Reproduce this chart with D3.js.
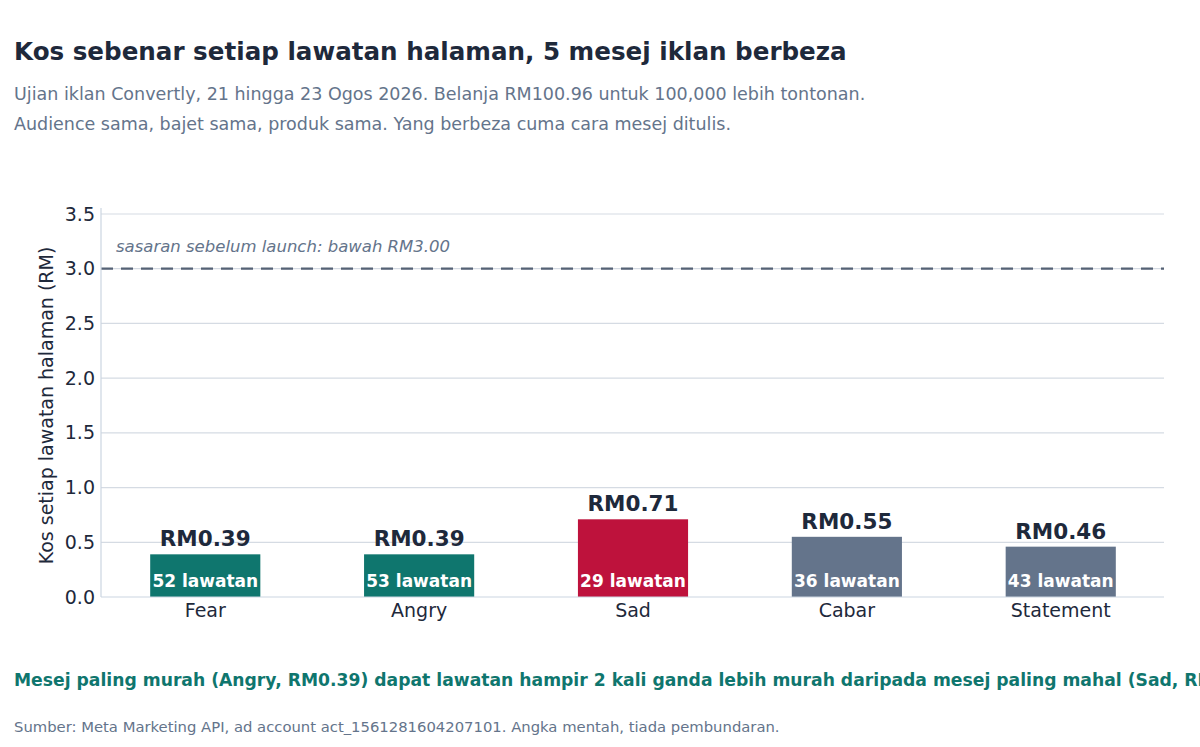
<!DOCTYPE html>
<html>
<head>
<meta charset="utf-8">
<script src="https://cdn.jsdelivr.net/npm/d3@7"></script>
<style>
  body { margin: 0; background: #fff; }
  svg { display: block; font-family: "DejaVu Sans", sans-serif; }
</style>
</head>
<body>
<svg id="chart" width="1200" height="747"></svg>
<script>
const categories = ["Fear", "Angry", "Sad", "Cabar", "Statement"];
const costs = [0.39, 0.39, 0.71, 0.55, 0.46];
const visits = [52, 53, 29, 36, 43];
const groups = ["murah", "murah", "mahal", "lain", "lain"];
const yTicks = [0, 0.5, 1.0, 1.5, 2.0, 2.5, 3.0, 3.5];
const target = 3.0;

const colors = { murah: "#0f766e", mahal: "#be123c", lain: "#64748b" };

const svg = d3.select("#chart");

// header text
svg.append("text")
  .attr("x", 14).attr("y", 60)
  .attr("fill", "#1e293b")
  .style("font-size", "24.6px").style("font-weight", "bold")
  .text("Kos sebenar setiap lawatan halaman, 5 mesej iklan berbeza");
svg.append("text")
  .attr("x", 14).attr("y", 100)
  .attr("fill", "#64748b").style("font-size", "17.5px")
  .text("Ujian iklan Convertly, 21 hingga 23 Ogos 2026. Belanja RM100.96 untuk 100,000 lebih tontonan.");
svg.append("text")
  .attr("x", 14).attr("y", 130)
  .attr("fill", "#64748b").style("font-size", "17.5px")
  .text("Audience sama, bajet sama, produk sama. Yang berbeza cuma cara mesej ditulis.");

const plot = { left: 101, right: 1165, top: 214, bottom: 597 };

const x = d3.scaleBand()
  .domain(categories)
  .range([plot.left, plot.right])
  .paddingInner(0.485)
  .paddingOuter(0.23);

const y = d3.scaleLinear()
  .domain([0, 3.5])
  .range([plot.bottom, plot.top]);

// grid
svg.append("g")
  .selectAll("line")
  .data(yTicks.slice(1))
  .join("line")
  .attr("x1", plot.left).attr("x2", plot.right - 1)
  .attr("y1", (d) => y(d)).attr("y2", (d) => y(d))
  .attr("stroke", "#d5dbe3").attr("stroke-width", 1.2);

// target line
svg.append("line")
  .attr("x1", plot.left).attr("x2", plot.right - 1)
  .attr("y1", y(target)).attr("y2", y(target))
  .attr("stroke", "#556275").attr("stroke-width", 2.2)
  .attr("stroke-dasharray", "12,8");
svg.append("text")
  .attr("x", 116).attr("y", y(target) - 17)
  .attr("fill", "#64748b")
  .style("font-size", "16.5px").style("font-style", "italic")
  .text("sasaran sebelum launch: bawah RM3.00");

// bars
const data = categories.map((c, i) => ({ cat: c, cost: costs[i], visits: visits[i], group: groups[i] }));

svg.append("g")
  .selectAll("rect")
  .data(data)
  .join("rect")
  .attr("x", (d) => x(d.cat))
  .attr("width", x.bandwidth())
  .attr("y", (d) => y(d.cost))
  .attr("height", (d) => y(0) - y(d.cost))
  .attr("fill", (d) => colors[d.group]);

svg.append("g")
  .selectAll("text")
  .data(data)
  .join("text")
  .attr("x", (d) => x(d.cat) + x.bandwidth() / 2)
  .attr("y", (d) => y(d.cost) - 8)
  .attr("text-anchor", "middle")
  .attr("fill", "#1e293b")
  .style("font-size", "21.5px").style("font-weight", "bold")
  .text((d) => "RM" + d.cost.toFixed(2));

svg.append("g")
  .selectAll("text")
  .data(data)
  .join("text")
  .attr("x", (d) => x(d.cat) + x.bandwidth() / 2)
  .attr("y", y(0) - 10)
  .attr("text-anchor", "middle")
  .attr("fill", "#ffffff")
  .style("font-size", "17px").style("font-weight", "bold")
  .text((d) => d.visits + " lawatan");

// axes
const yAxis = svg.append("g")
  .attr("transform", `translate(${plot.left},0)`)
  .call(d3.axisLeft(y).tickValues(yTicks).tickFormat(d3.format(".1f")).tickSize(0).tickPadding(6));
const xAxis = svg.append("g")
  .attr("transform", `translate(0,${plot.bottom})`)
  .call(d3.axisBottom(x).tickSize(0).tickPadding(7));

[yAxis, xAxis].forEach((g) => {
  g.select(".domain").attr("stroke", "#cbd5e1").attr("stroke-width", 1.2);
  g.selectAll("text")
    .attr("fill", "#1e293b")
    .style("font-size", "19px")
    .style("font-family", "DejaVu Sans, sans-serif");
});
xAxis.select(".domain").attr("d", `M${plot.left},0H${plot.right - 1}`);
yAxis.select(".domain").attr("d", `M0,${plot.bottom}V${plot.top - 6}`);

svg.append("text")
  .attr("transform", `translate(53,${(plot.top + plot.bottom) / 2}) rotate(-90)`)
  .attr("text-anchor", "middle")
  .attr("fill", "#1e293b")
  .style("font-size", "19px")
  .text("Kos setiap lawatan halaman (RM)");

// footer
svg.append("text")
  .attr("x", 14).attr("y", 686)
  .attr("fill", "#0f766e")
  .style("font-size", "17.2px").style("font-weight", "bold")
  .text("Mesej paling murah (Angry, RM0.39) dapat lawatan hampir 2 kali ganda lebih murah daripada mesej paling mahal (Sad, RM0.71).");
svg.append("text")
  .attr("x", 14).attr("y", 732)
  .attr("fill", "#64748b").style("font-size", "14.8px")
  .text("Sumber: Meta Marketing API, ad account act_1561281604207101. Angka mentah, tiada pembundaran.");
</script>
</body>
</html>
